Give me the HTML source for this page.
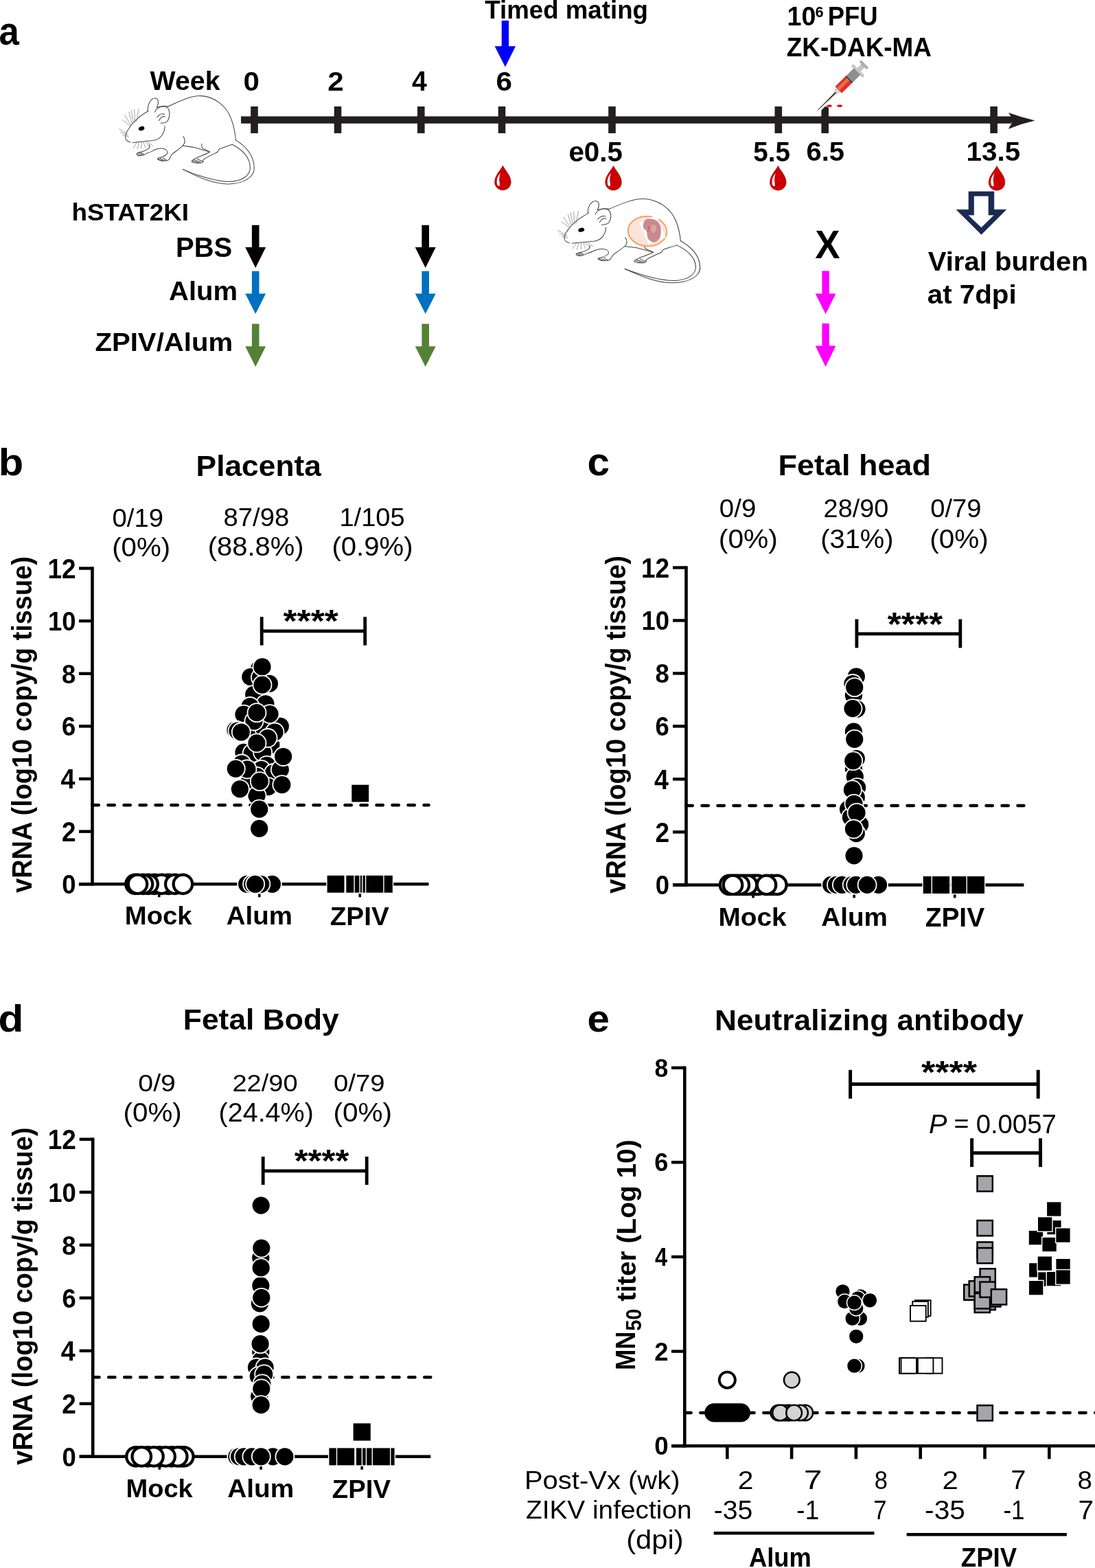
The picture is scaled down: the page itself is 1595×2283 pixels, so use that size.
<!DOCTYPE html>
<html><head><meta charset="utf-8"><title>Figure</title>
<style>html,body{margin:0;padding:0;background:#fff;}svg{display:block;}text{font-family:"Liberation Sans",sans-serif;}</style>
</head><body>
<svg width="1595" height="2283" viewBox="0 0 1595 2283">
<rect width="1595" height="2283" fill="#fff"/>
<text transform="translate(-1.58,65.12) scale(0.9085,1)" font-size="58.08" font-weight="bold">a</text>
<text x="218.60" y="131.31" font-size="39.32" font-weight="bold">Week</text>
<text transform="translate(354.62,131.71) scale(1.0793,1)" font-size="39.01" font-weight="bold">0</text>
<text transform="translate(477.33,132.10) scale(1.0635,1)" font-size="39.57" font-weight="bold">2</text>
<text transform="translate(600.11,132.10) scale(0.9778,1)" font-size="40.15" font-weight="bold">4</text>
<text transform="translate(722.41,131.71) scale(1.0838,1)" font-size="39.01" font-weight="bold">6</text>
<text transform="translate(706.23,27.12) scale(1.0147,1)" font-size="36.16" font-weight="bold">Timed mating</text>
<text transform="translate(828.39,234.90) scale(1.0093,1)" font-size="40.00" font-weight="bold">e0.5</text>
<text transform="translate(1097.24,234.89) scale(0.9544,1)" font-size="40.57" font-weight="bold">5.5</text>
<text transform="translate(1174.50,233.92) scale(1.0481,1)" font-size="38.16" font-weight="bold">6.5</text>
<text transform="translate(1407.47,233.82) scale(1.0632,1)" font-size="38.03" font-weight="bold">13.5</text>
<text transform="translate(1146.54,37.42) scale(0.9883,1)" font-size="38.16" font-weight="bold">10</text>
<text transform="translate(1187.48,25.48) scale(0.9869,1)" font-size="22.05" font-weight="bold">6</text>
<text transform="translate(1205.64,37.41) scale(0.9422,1)" font-size="38.71" font-weight="bold">PFU</text>
<text transform="translate(1145.79,81.90) scale(0.9368,1)" font-size="39.42" font-weight="bold">ZK-DAK-MA</text>
<text transform="translate(104.52,320.85) scale(1.0420,1)" font-size="35.37" font-weight="bold">hSTAT2KI</text>
<text transform="translate(256.00,374.39) scale(0.9873,1)" font-size="40.57" font-weight="bold">PBS</text>
<text transform="translate(246.00,437.42) scale(1.0511,1)" font-size="38.10" font-weight="bold">Alum</text>
<text transform="translate(138.40,510.54) scale(1.0610,1)" font-size="37.85" font-weight="bold">ZPIV/Alum</text>
<text transform="translate(1187.15,376.30) scale(0.9586,1)" font-size="56.87" font-weight="bold">X</text>
<text transform="translate(1351.70,394.02) scale(1.0565,1)" font-size="37.96" font-weight="bold">Viral burden</text>
<text transform="translate(1350.79,442.49) scale(1.0189,1)" font-size="39.57" font-weight="bold">at 7dpi</text>
<rect x="351" y="169.4" width="1122" height="10.4" fill="#231f20"/>
<rect x="365.2" y="155" width="10.6" height="39" fill="#231f20"/>
<rect x="486.7" y="155" width="10.6" height="39" fill="#231f20"/>
<rect x="608.0" y="155" width="10.6" height="39" fill="#231f20"/>
<rect x="725.7" y="155" width="10.6" height="39" fill="#231f20"/>
<rect x="886.2" y="155" width="10.6" height="39" fill="#231f20"/>
<rect x="1128.5" y="155" width="10.6" height="39" fill="#231f20"/>
<rect x="1196.4" y="155" width="10.6" height="39" fill="#231f20"/>
<rect x="1442.3" y="155" width="10.6" height="39" fill="#231f20"/>
<path d="M1468.9,164 Q1471,167 1472.3,169.4 L1473.5,179.8 Q1471,184 1468.9,187.7 Q1488,180 1507.6,175.5 Q1488,171 1468.9,164 Z" fill="#231f20"/>
<path d="M730.7,30.0 H741.1 V67.3 H751.1 L735.9,97.4 L720.6,67.3 H730.7 Z" fill="#0000ff"/>
<path d="M366.9,327.8 H377.5 V360.0 H387.2 L372.2,390.0 L357.2,360.0 H366.9 Z" fill="#000000"/>
<path d="M366.9,394.8 H377.5 V427.5 H387.2 L372.2,457.0 L357.2,427.5 H366.9 Z" fill="#0070c0"/>
<path d="M366.9,471.5 H377.5 V504.2 H387.2 L372.2,534.0 L357.2,504.2 H366.9 Z" fill="#548235"/>
<path d="M614.4,327.8 H625.0 V360.0 H634.7 L619.7,390.0 L604.7,360.0 H614.4 Z" fill="#000000"/>
<path d="M614.4,394.8 H625.0 V427.5 H634.7 L619.7,457.0 L604.7,427.5 H614.4 Z" fill="#0070c0"/>
<path d="M614.4,471.5 H625.0 V504.2 H634.7 L619.7,534.0 L604.7,504.2 H614.4 Z" fill="#548235"/>
<path d="M1197.4,394.4 H1207.8 V427.5 H1217.5 L1202.6,457.2 L1187.7,427.5 H1197.4 Z" fill="#ff00ff"/>
<path d="M1197.4,471.0 H1207.8 V503.5 H1217.5 L1202.6,534.0 L1187.7,503.5 H1197.4 Z" fill="#ff00ff"/>
<path fill-rule="evenodd" d="M1411,278.9 H1447.9 V305.2 H1465.7 L1429.4,341.4 L1393,305.2 H1411 Z M1418.5,285.3 V313.1 H1409.9 L1429.4,331.6 L1448.3,313.1 H1440 V285.3 Z" fill="#1b2a52" stroke="#1b2a52" stroke-width="0.6" stroke-linejoin="round"/>
<g transform="translate(732.4,241.3) scale(1.000)"><path d="M0,0 C-3,6.5 -11.8,14 -11.8,24 C-11.8,30.5 -6.5,35.5 0,35.5 C6.5,35.5 11.8,30.5 11.8,24 C11.8,14 3,6.5 0,0 Z" fill="#cc0000" stroke="#8a0000" stroke-width="0.6"/><path d="M-3.5,10.6 C-6,13.5 -8.3,17 -8.6,21 C-9,25 -8.5,28 -6.7,29.4 C-5.5,30 -4.6,29.2 -4.5,28.2 C-4.6,25 -5.3,22 -5.2,19.5 C-5.1,16 -4.2,13 -3.5,10.6 Z" fill="#fff"/></g>
<g transform="translate(893.5,241.6) scale(1.000)"><path d="M0,0 C-3,6.5 -11.8,14 -11.8,24 C-11.8,30.5 -6.5,35.5 0,35.5 C6.5,35.5 11.8,30.5 11.8,24 C11.8,14 3,6.5 0,0 Z" fill="#cc0000" stroke="#8a0000" stroke-width="0.6"/><path d="M-3.5,10.6 C-6,13.5 -8.3,17 -8.6,21 C-9,25 -8.5,28 -6.7,29.4 C-5.5,30 -4.6,29.2 -4.5,28.2 C-4.6,25 -5.3,22 -5.2,19.5 C-5.1,16 -4.2,13 -3.5,10.6 Z" fill="#fff"/></g>
<g transform="translate(1133.3,241.6) scale(1.000)"><path d="M0,0 C-3,6.5 -11.8,14 -11.8,24 C-11.8,30.5 -6.5,35.5 0,35.5 C6.5,35.5 11.8,30.5 11.8,24 C11.8,14 3,6.5 0,0 Z" fill="#cc0000" stroke="#8a0000" stroke-width="0.6"/><path d="M-3.5,10.6 C-6,13.5 -8.3,17 -8.6,21 C-9,25 -8.5,28 -6.7,29.4 C-5.5,30 -4.6,29.2 -4.5,28.2 C-4.6,25 -5.3,22 -5.2,19.5 C-5.1,16 -4.2,13 -3.5,10.6 Z" fill="#fff"/></g>
<g transform="translate(1452.0,241.7) scale(1.000)"><path d="M0,0 C-3,6.5 -11.8,14 -11.8,24 C-11.8,30.5 -6.5,35.5 0,35.5 C6.5,35.5 11.8,30.5 11.8,24 C11.8,14 3,6.5 0,0 Z" fill="#cc0000" stroke="#8a0000" stroke-width="0.6"/><path d="M-3.5,10.6 C-6,13.5 -8.3,17 -8.6,21 C-9,25 -8.5,28 -6.7,29.4 C-5.5,30 -4.6,29.2 -4.5,28.2 C-4.6,25 -5.3,22 -5.2,19.5 C-5.1,16 -4.2,13 -3.5,10.6 Z" fill="#fff"/></g>
<g transform="translate(1191.3,160.3) rotate(-44.5)"><g stroke="#fff" stroke-width="5" stroke-linejoin="round" fill="#fff" opacity="0.9"><rect x="4" y="-1.2" width="36" height="2.4"/><rect x="40" y="-6.8" width="41" height="13.6"/><rect x="80" y="-11.3" width="3.4" height="22.6"/><rect x="83" y="-3.8" width="10" height="7.6"/><rect x="92.5" y="-7.2" width="3.4" height="14.4"/></g><path d="M0,0 L38,-1 L38,1 Z" fill="#333" stroke="#444" stroke-width="0.8"/><circle cx="39.5" cy="0" r="3.2" fill="#d8d8dc" stroke="#999" stroke-width="0.6"/><rect x="42" y="-6.8" width="22" height="13.6" fill="#e03028"/><rect x="42" y="-3.5" width="22" height="5" fill="#ec6a50"/><rect x="63.5" y="-6.8" width="17" height="13.6" fill="#8e8e92"/><rect x="63.3" y="-6.8" width="1.2" height="13.6" fill="#222"/><rect x="80" y="-11.3" width="3.2" height="22.6" fill="#c8c8cc" stroke="#888" stroke-width="0.5"/><rect x="83" y="-3.6" width="10" height="7.2" fill="#c4c4c8"/><rect x="92.5" y="-7.2" width="3.2" height="14.4" fill="#b0b0b4" stroke="#777" stroke-width="0.5"/></g>
<path d="M1212.5,154.2 C1210.5,151 1205.5,151.8 1202.9,154.2 C1205.5,156.6 1210.5,157.4 1212.5,154.2 Z" fill="#d01010" stroke="#fff" stroke-width="0.8"/>
<path d="M1227.6,154.2 C1225.6,151 1220.6,151.8 1218.0,154.2 C1220.6,156.6 1225.6,157.4 1227.6,154.2 Z" fill="#d01010" stroke="#fff" stroke-width="0.8"/>
<g transform="translate(160,120) scale(0.1442)" fill="none" stroke-linecap="round" stroke-linejoin="round"><g stroke="#454545" stroke-width="7.2"><path d="M590,243 C700,190 820,132 920,136 C1050,142 1180,230 1230,380 C1258,460 1268,530 1272,582"/><path d="M1272,582 C1380,650 1455,740 1458,860 C1460,960 1350,1022 1200,1026 C1050,1028 900,960 738,878"/><path d="M738,878 C900,945 1060,1000 1200,1002 C1330,1002 1422,942 1417,852 C1412,760 1340,680 1235,626"/><path d="M1235,626 C1180,650 1120,662 1100,678 L1092,700 C1050,722 1000,745 950,775 C935,790 945,805 930,812 C905,818 880,815 860,812 C840,810 825,805 828,795 C835,780 860,770 880,760 C930,740 980,720 1010,702 C990,690 960,680 932,660 C925,645 925,630 930,620"/><path d="M1010,702 C960,690 900,668 850,655 C810,648 770,645 738,640"/><path d="M742,545 C762,580 762,615 735,640 C700,672 660,700 632,722 C612,742 608,760 600,775"/><path d="M600,775 C590,790 560,795 540,790 C520,795 500,790 482,776 C478,768 490,762 505,760 C530,752 560,740 578,720 C585,700 575,680 555,672 C520,662 480,668 450,682"/><path d="M450,682 C430,695 410,705 380,712 C360,725 340,738 310,740 C290,742 272,735 270,722 C275,710 290,708 300,706 C330,700 360,690 385,672 C402,660 405,645 400,630"/><path d="M388,288 C300,340 225,410 190,468 C165,505 150,545 160,570 C168,588 185,598 205,604"/><path d="M230,608 C300,598 380,592 440,586 C510,575 552,520 556,440"/><path d="M385,290 C378,230 410,160 455,160 C490,160 500,200 475,252"/><path d="M455,300 C470,255 520,235 565,245 C612,265 612,340 582,392 C565,406 540,412 515,410"/><path d="M478,352 C498,322 528,310 552,322"/><path d="M495,386 C515,348 540,338 556,348"/><path d="M475,252 C510,242 560,238 590,243"/><path d="M276,716 C286,726 296,734 310,738"/><path d="M292,708 C302,718 312,727 326,732"/><path d="M308,704 C320,712 330,720 342,727"/><path d="M487,768 C500,780 515,788 530,791"/><path d="M507,762 C520,775 535,784 550,788"/><path d="M540,760 C550,772 560,782 575,787"/><path d="M836,792 C860,801 880,808 900,812"/><path d="M852,782 C875,793 895,801 920,806"/><path d="M882,772 C905,785 925,795 945,800"/></g><g stroke="#6e6e6e" stroke-width="4.5"><path d="M205,438 L130,380"/><path d="M212,430 L150,330"/><path d="M226,420 L192,300"/><path d="M240,410 L216,282"/><path d="M255,402 L247,272"/><path d="M270,396 L292,268"/><path d="M182,522 L95,470"/><path d="M182,536 L108,502"/><path d="M190,552 L130,532"/><path d="M275,602 L238,662"/><path d="M295,602 L278,672"/><path d="M318,604 L318,668"/><path d="M338,602 L360,662"/><path d="M358,600 L402,652"/><path d="M378,600 L432,640"/></g><ellipse cx="320" cy="465" rx="30" ry="21" transform="rotate(-18 320 465)" fill="#000" stroke="none"/></g>
<g transform="translate(798.08,270.81) scale(0.15198,0.13742)" fill="none" stroke-linecap="round" stroke-linejoin="round"><g stroke="#454545" stroke-width="7.2"><path d="M590,243 C700,190 820,132 920,136 C1050,142 1180,230 1230,380 C1258,460 1268,530 1272,582"/><path d="M1272,582 C1380,650 1455,740 1458,860 C1460,960 1350,1022 1200,1026 C1050,1028 900,960 738,878"/><path d="M738,878 C900,945 1060,1000 1200,1002 C1330,1002 1422,942 1417,852 C1412,760 1340,680 1235,626"/><path d="M1235,626 C1180,650 1120,662 1100,678 L1092,700 C1050,722 1000,745 950,775 C935,790 945,805 930,812 C905,818 880,815 860,812 C840,810 825,805 828,795 C835,780 860,770 880,760 C930,740 980,720 1010,702 C990,690 960,680 932,660 C925,645 925,630 930,620"/><path d="M1010,702 C960,690 900,668 850,655 C810,648 770,645 738,640"/><path d="M742,545 C762,580 762,615 735,640 C700,672 660,700 632,722 C612,742 608,760 600,775"/><path d="M600,775 C590,790 560,795 540,790 C520,795 500,790 482,776 C478,768 490,762 505,760 C530,752 560,740 578,720 C585,700 575,680 555,672 C520,662 480,668 450,682"/><path d="M450,682 C430,695 410,705 380,712 C360,725 340,738 310,740 C290,742 272,735 270,722 C275,710 290,708 300,706 C330,700 360,690 385,672 C402,660 405,645 400,630"/><path d="M388,288 C300,340 225,410 190,468 C165,505 150,545 160,570 C168,588 185,598 205,604"/><path d="M230,608 C300,598 380,592 440,586 C510,575 552,520 556,440"/><path d="M385,290 C378,230 410,160 455,160 C490,160 500,200 475,252"/><path d="M455,300 C470,255 520,235 565,245 C612,265 612,340 582,392 C565,406 540,412 515,410"/><path d="M478,352 C498,322 528,310 552,322"/><path d="M495,386 C515,348 540,338 556,348"/><path d="M475,252 C510,242 560,238 590,243"/><path d="M276,716 C286,726 296,734 310,738"/><path d="M292,708 C302,718 312,727 326,732"/><path d="M308,704 C320,712 330,720 342,727"/><path d="M487,768 C500,780 515,788 530,791"/><path d="M507,762 C520,775 535,784 550,788"/><path d="M540,760 C550,772 560,782 575,787"/><path d="M836,792 C860,801 880,808 900,812"/><path d="M852,782 C875,793 895,801 920,806"/><path d="M882,772 C905,785 925,795 945,800"/></g><g stroke="#6e6e6e" stroke-width="4.5"><path d="M205,438 L130,380"/><path d="M212,430 L150,330"/><path d="M226,420 L192,300"/><path d="M240,410 L216,282"/><path d="M255,402 L247,272"/><path d="M270,396 L292,268"/><path d="M182,522 L95,470"/><path d="M182,536 L108,502"/><path d="M190,552 L130,532"/><path d="M275,602 L238,662"/><path d="M295,602 L278,672"/><path d="M318,604 L318,668"/><path d="M338,602 L360,662"/><path d="M358,600 L402,652"/><path d="M378,600 L432,640"/></g><ellipse cx="320" cy="465" rx="30" ry="21" transform="rotate(-18 320 465)" fill="#000" stroke="none"/></g>
<g><ellipse cx="943" cy="336.7" rx="28.2" ry="21.7" transform="rotate(4 943 336.7)" fill="#fbe4d8" stroke="#f2a46c" stroke-width="2.1"/><path d="M931,324 L956.5,313 L969.5,346 L944.5,355.8 Z" fill="#fff"/><path d="M945.1,318.5 C952,318.5 957,320.5 959.2,324.1 C962,328 963,331 962.7,335.1 C962.5,340 962.5,342 961.7,345.1 C960,350 956,352.6 952.6,352.6 C950,352.8 948.5,352 947.6,351.1 C944.5,349 943.5,347.5 943.1,345.1 C942.5,342 942.6,339 942.1,337.6 C941.6,336 941.4,335.5 941.1,335.1 C939.5,334.5 938,334 937.6,332.6 C936.8,330 936.8,328 937.1,326.1 C937.6,323 938.5,321.5 940.1,320.5 C941.5,319 943.5,318.5 945.1,318.5 Z" fill="#c98a8f"/><ellipse cx="952" cy="333" rx="4" ry="6" fill="#d9a3a6"/><circle cx="944.8" cy="331.6" r="0.9" fill="#6a3030"/><circle cx="944.2" cy="335.8" r="1.4" fill="#d25c5c"/></g>
<line x1="134.50" y1="825.25" x2="134.50" y2="1289.55" stroke="#000" stroke-width="4.6" stroke-linecap="butt"/><line x1="115.00" y1="1287.30" x2="134.50" y2="1287.30" stroke="#000" stroke-width="4.4" stroke-linecap="butt"/><line x1="115.00" y1="1210.67" x2="134.50" y2="1210.67" stroke="#000" stroke-width="4.4" stroke-linecap="butt"/><line x1="115.00" y1="1134.03" x2="134.50" y2="1134.03" stroke="#000" stroke-width="4.4" stroke-linecap="butt"/><line x1="115.00" y1="1057.40" x2="134.50" y2="1057.40" stroke="#000" stroke-width="4.4" stroke-linecap="butt"/><line x1="115.00" y1="980.76" x2="134.50" y2="980.76" stroke="#000" stroke-width="4.4" stroke-linecap="butt"/><line x1="115.00" y1="904.13" x2="134.50" y2="904.13" stroke="#000" stroke-width="4.4" stroke-linecap="butt"/><line x1="115.00" y1="827.50" x2="134.50" y2="827.50" stroke="#000" stroke-width="4.4" stroke-linecap="butt"/><line x1="115.00" y1="1287.30" x2="624.50" y2="1287.30" stroke="#000" stroke-width="4.5" stroke-linecap="butt"/><line x1="231.70" y1="1287.30" x2="231.70" y2="1306.30" stroke="#000" stroke-width="3.6" stroke-linecap="butt"/><line x1="377.80" y1="1287.30" x2="377.80" y2="1306.30" stroke="#000" stroke-width="3.6" stroke-linecap="butt"/><line x1="524.30" y1="1287.30" x2="524.30" y2="1306.30" stroke="#000" stroke-width="3.6" stroke-linecap="butt"/><line x1="134.5" y1="1172.35" x2="624.5" y2="1172.35" stroke="#000" stroke-width="4.5" stroke-linecap="round" stroke-dasharray="9.3 13.7"/>
<line x1="999.50" y1="824.20" x2="999.50" y2="1290.65" stroke="#000" stroke-width="4.6" stroke-linecap="butt"/><line x1="980.00" y1="1288.40" x2="999.50" y2="1288.40" stroke="#000" stroke-width="4.4" stroke-linecap="butt"/><line x1="980.00" y1="1211.41" x2="999.50" y2="1211.41" stroke="#000" stroke-width="4.4" stroke-linecap="butt"/><line x1="980.00" y1="1134.42" x2="999.50" y2="1134.42" stroke="#000" stroke-width="4.4" stroke-linecap="butt"/><line x1="980.00" y1="1057.42" x2="999.50" y2="1057.42" stroke="#000" stroke-width="4.4" stroke-linecap="butt"/><line x1="980.00" y1="980.43" x2="999.50" y2="980.43" stroke="#000" stroke-width="4.4" stroke-linecap="butt"/><line x1="980.00" y1="903.44" x2="999.50" y2="903.44" stroke="#000" stroke-width="4.4" stroke-linecap="butt"/><line x1="980.00" y1="826.45" x2="999.50" y2="826.45" stroke="#000" stroke-width="4.4" stroke-linecap="butt"/><line x1="980.00" y1="1288.40" x2="1491.40" y2="1288.40" stroke="#000" stroke-width="4.5" stroke-linecap="butt"/><line x1="1097.10" y1="1288.40" x2="1097.10" y2="1307.40" stroke="#000" stroke-width="3.6" stroke-linecap="butt"/><line x1="1244.20" y1="1288.40" x2="1244.20" y2="1307.40" stroke="#000" stroke-width="3.6" stroke-linecap="butt"/><line x1="1390.70" y1="1288.40" x2="1390.70" y2="1307.40" stroke="#000" stroke-width="3.6" stroke-linecap="butt"/><line x1="999.5" y1="1172.91" x2="1491.4" y2="1172.91" stroke="#000" stroke-width="4.5" stroke-linecap="round" stroke-dasharray="9.3 13.7"/>
<line x1="135.20" y1="1656.55" x2="135.20" y2="2123.00" stroke="#000" stroke-width="4.6" stroke-linecap="butt"/><line x1="115.70" y1="2120.75" x2="135.20" y2="2120.75" stroke="#000" stroke-width="4.4" stroke-linecap="butt"/><line x1="115.70" y1="2043.76" x2="135.20" y2="2043.76" stroke="#000" stroke-width="4.4" stroke-linecap="butt"/><line x1="115.70" y1="1966.77" x2="135.20" y2="1966.77" stroke="#000" stroke-width="4.4" stroke-linecap="butt"/><line x1="115.70" y1="1889.77" x2="135.20" y2="1889.77" stroke="#000" stroke-width="4.4" stroke-linecap="butt"/><line x1="115.70" y1="1812.78" x2="135.20" y2="1812.78" stroke="#000" stroke-width="4.4" stroke-linecap="butt"/><line x1="115.70" y1="1735.79" x2="135.20" y2="1735.79" stroke="#000" stroke-width="4.4" stroke-linecap="butt"/><line x1="115.70" y1="1658.80" x2="135.20" y2="1658.80" stroke="#000" stroke-width="4.4" stroke-linecap="butt"/><line x1="115.70" y1="2120.75" x2="627.30" y2="2120.75" stroke="#000" stroke-width="4.5" stroke-linecap="butt"/><line x1="232.30" y1="2120.75" x2="232.30" y2="2139.75" stroke="#000" stroke-width="3.6" stroke-linecap="butt"/><line x1="380.10" y1="2120.75" x2="380.10" y2="2139.75" stroke="#000" stroke-width="3.6" stroke-linecap="butt"/><line x1="527.20" y1="2120.75" x2="527.20" y2="2139.75" stroke="#000" stroke-width="3.6" stroke-linecap="butt"/><line x1="135.2" y1="2005.26" x2="627.3" y2="2005.26" stroke="#000" stroke-width="4.5" stroke-linecap="round" stroke-dasharray="9.3 13.7"/>
<text transform="translate(90.28,1301.31) scale(0.9300,1)" font-size="39.29" font-weight="bold">0</text><text transform="translate(90.01,1225.07) scale(0.9300,1)" font-size="39.86" font-weight="bold">2</text><text transform="translate(88.42,1148.43) scale(0.9300,1)" font-size="40.44" font-weight="bold">4</text><text transform="translate(90.10,1071.41) scale(0.9300,1)" font-size="39.29" font-weight="bold">6</text><text transform="translate(89.92,994.77) scale(0.9300,1)" font-size="39.29" font-weight="bold">8</text><text transform="translate(70.00,918.14) scale(0.9300,1)" font-size="39.29" font-weight="bold">10</text><text transform="translate(69.44,841.90) scale(0.9300,1)" font-size="39.86" font-weight="bold">12</text>
<text transform="translate(954.78,1302.41) scale(0.9300,1)" font-size="39.29" font-weight="bold">0</text><text transform="translate(954.51,1225.81) scale(0.9300,1)" font-size="39.86" font-weight="bold">2</text><text transform="translate(952.92,1148.82) scale(0.9300,1)" font-size="40.44" font-weight="bold">4</text><text transform="translate(954.60,1071.43) scale(0.9300,1)" font-size="39.29" font-weight="bold">6</text><text transform="translate(954.42,994.44) scale(0.9300,1)" font-size="39.29" font-weight="bold">8</text><text transform="translate(934.50,917.45) scale(0.9300,1)" font-size="39.29" font-weight="bold">10</text><text transform="translate(933.94,840.85) scale(0.9300,1)" font-size="39.86" font-weight="bold">12</text>
<text transform="translate(90.58,2134.76) scale(0.9300,1)" font-size="39.29" font-weight="bold">0</text><text transform="translate(90.31,2058.16) scale(0.9300,1)" font-size="39.86" font-weight="bold">2</text><text transform="translate(88.72,1981.17) scale(0.9300,1)" font-size="40.44" font-weight="bold">4</text><text transform="translate(90.40,1903.78) scale(0.9300,1)" font-size="39.29" font-weight="bold">6</text><text transform="translate(90.22,1826.79) scale(0.9300,1)" font-size="39.29" font-weight="bold">8</text><text transform="translate(70.30,1749.80) scale(0.9300,1)" font-size="39.29" font-weight="bold">10</text><text transform="translate(69.74,1673.20) scale(0.9300,1)" font-size="39.86" font-weight="bold">12</text>
<text transform="translate(-2.37,691.74) scale(1.0685,1)" font-size="55.78" font-weight="bold">b</text>
<text transform="translate(855.56,692.13) scale(1.0194,1)" font-size="57.35" font-weight="bold">c</text>
<text transform="translate(-2.42,1502.04) scale(1.0827,1)" font-size="55.78" font-weight="bold">d</text>
<text transform="translate(855.57,1502.05) scale(1.0523,1)" font-size="55.34" font-weight="bold">e</text>
<text transform="translate(285.61,692.87) scale(1.0374,1)" font-size="42.72" font-weight="bold">Placenta</text>
<text transform="translate(1133.46,692.17) scale(1.0464,1)" font-size="42.99" font-weight="bold">Fetal head</text>
<text transform="translate(266.80,1499.17) scale(1.0431,1)" font-size="42.57" font-weight="bold">Fetal Body</text>
<text transform="translate(1041.01,1500.17) scale(1.0529,1)" font-size="42.03" font-weight="bold">Neutralizing antibody</text>
<text transform="translate(163.47,766.63) scale(1.0306,1)" font-size="37.14" >0/19</text>
<text transform="translate(163.18,810.47) scale(1.0145,1)" font-size="39.68" >(0%)</text>
<text transform="translate(325.47,765.63) scale(1.0301,1)" font-size="37.14" >87/98</text>
<text transform="translate(302.70,808.93) scale(1.0148,1)" font-size="39.36" >(88.8%)</text>
<text transform="translate(494.44,765.63) scale(1.0251,1)" font-size="37.14" >1/105</text>
<text transform="translate(483.50,808.93) scale(1.0182,1)" font-size="39.36" >(0.9%)</text>
<text transform="translate(1047.86,753.43) scale(1.0472,1)" font-size="36.73" >0/9</text>
<text transform="translate(1046.85,797.70) scale(1.0441,1)" font-size="39.03" >(0%)</text>
<text transform="translate(1199.61,753.43) scale(1.0303,1)" font-size="36.73" >28/90</text>
<text transform="translate(1195.21,797.70) scale(1.0217,1)" font-size="39.03" >(31%)</text>
<text transform="translate(1355.28,753.43) scale(1.0377,1)" font-size="36.73" >0/79</text>
<text transform="translate(1354.27,797.70) scale(1.0363,1)" font-size="39.03" >(0%)</text>
<text transform="translate(201.33,1588.54) scale(1.1006,1)" font-size="35.65" >0/9</text>
<text transform="translate(179.58,1632.91) scale(1.0482,1)" font-size="38.50" >(0%)</text>
<text transform="translate(338.50,1588.54) scale(1.0652,1)" font-size="35.65" >22/90</text>
<text transform="translate(318.53,1632.91) scale(1.0267,1)" font-size="38.50" >(24.4%)</text>
<text transform="translate(486.07,1588.54) scale(1.0739,1)" font-size="35.65" >0/79</text>
<text transform="translate(485.57,1632.91) scale(1.0521,1)" font-size="38.50" >(0%)</text>
<text transform="translate(181.82,1346.23) scale(1.0458,1)" font-size="36.60" font-weight="bold">Mock</text>
<text transform="translate(329.84,1346.23) scale(1.0510,1)" font-size="36.60" font-weight="bold">Alum</text>
<text transform="translate(480.64,1346.60) scale(1.0370,1)" font-size="37.38" font-weight="bold">ZPIV</text>
<text transform="translate(1046.58,1348.13) scale(1.0358,1)" font-size="37.41" font-weight="bold">Mock</text>
<text transform="translate(1196.23,1348.13) scale(1.0347,1)" font-size="37.41" font-weight="bold">Alum</text>
<text transform="translate(1347.63,1348.50) scale(1.0181,1)" font-size="38.25" font-weight="bold">ZPIV</text>
<text transform="translate(183.43,2180.34) scale(1.0571,1)" font-size="36.05" font-weight="bold">Mock</text>
<text transform="translate(331.13,2180.34) scale(1.0772,1)" font-size="36.05" font-weight="bold">Alum</text>
<text transform="translate(483.85,2180.70) scale(1.0422,1)" font-size="36.80" font-weight="bold">ZPIV</text>
<text transform="translate(46.00,1299.89) rotate(-90) scale(0.9452,1)" font-size="40.15" font-weight="bold">vRNA (log10 copy/g tissue)</text>
<text transform="translate(910.80,1300.99) rotate(-90) scale(0.9461,1)" font-size="40.29" font-weight="bold">vRNA (log10 copy/g tissue)</text>
<text transform="translate(46.50,2133.09) rotate(-90) scale(0.9455,1)" font-size="40.29" font-weight="bold">vRNA (log10 copy/g tissue)</text>
<line x1="381.20" y1="898.20" x2="381.20" y2="939.60" stroke="#000" stroke-width="4.8" stroke-linecap="butt"/><line x1="531.70" y1="898.20" x2="531.70" y2="939.60" stroke="#000" stroke-width="4.8" stroke-linecap="butt"/><line x1="381.20" y1="918.90" x2="531.70" y2="918.90" stroke="#000" stroke-width="4.8" stroke-linecap="butt"/>
<text transform="translate(412.57,920.13) scale(1.1095,1)" font-size="46.44" font-weight="bold">****</text>
<line x1="1247.90" y1="901.50" x2="1247.90" y2="943.30" stroke="#000" stroke-width="4.8" stroke-linecap="butt"/><line x1="1398.80" y1="901.50" x2="1398.80" y2="943.30" stroke="#000" stroke-width="4.8" stroke-linecap="butt"/><line x1="1247.90" y1="922.80" x2="1398.80" y2="922.80" stroke="#000" stroke-width="4.8" stroke-linecap="butt"/>
<text transform="translate(1292.77,925.32) scale(1.0677,1)" font-size="48.32" font-weight="bold">****</text>
<line x1="383.20" y1="1684.00" x2="383.20" y2="1725.20" stroke="#000" stroke-width="4.8" stroke-linecap="butt"/><line x1="534.20" y1="1684.00" x2="534.20" y2="1725.20" stroke="#000" stroke-width="4.8" stroke-linecap="butt"/><line x1="383.20" y1="1704.80" x2="534.20" y2="1704.80" stroke="#000" stroke-width="4.8" stroke-linecap="butt"/>
<text transform="translate(428.67,1706.10) scale(1.0914,1)" font-size="46.98" font-weight="bold">****</text>
<line x1="997.30" y1="1552.52" x2="997.30" y2="2107.45" stroke="#000" stroke-width="4.6" stroke-linecap="butt"/>
<line x1="978.00" y1="2105.20" x2="997.30" y2="2105.20" stroke="#000" stroke-width="4.4" stroke-linecap="butt"/>
<line x1="978.00" y1="1967.58" x2="997.30" y2="1967.58" stroke="#000" stroke-width="4.4" stroke-linecap="butt"/>
<line x1="978.00" y1="1829.96" x2="997.30" y2="1829.96" stroke="#000" stroke-width="4.4" stroke-linecap="butt"/>
<line x1="978.00" y1="1692.34" x2="997.30" y2="1692.34" stroke="#000" stroke-width="4.4" stroke-linecap="butt"/>
<line x1="978.00" y1="1554.72" x2="997.30" y2="1554.72" stroke="#000" stroke-width="4.4" stroke-linecap="butt"/>
<line x1="978.00" y1="2105.20" x2="1595.00" y2="2105.20" stroke="#000" stroke-width="4.5" stroke-linecap="butt"/>
<line x1="1059.30" y1="2105.20" x2="1059.30" y2="2124.30" stroke="#000" stroke-width="4.6" stroke-linecap="butt"/>
<line x1="1153.10" y1="2105.20" x2="1153.10" y2="2124.30" stroke="#000" stroke-width="4.6" stroke-linecap="butt"/>
<line x1="1246.90" y1="2105.20" x2="1246.90" y2="2124.30" stroke="#000" stroke-width="4.6" stroke-linecap="butt"/>
<line x1="1340.70" y1="2105.20" x2="1340.70" y2="2124.30" stroke="#000" stroke-width="4.6" stroke-linecap="butt"/>
<line x1="1434.50" y1="2105.20" x2="1434.50" y2="2124.30" stroke="#000" stroke-width="4.6" stroke-linecap="butt"/>
<line x1="1528.30" y1="2105.20" x2="1528.30" y2="2124.30" stroke="#000" stroke-width="4.6" stroke-linecap="butt"/>
<line x1="997.3" y1="2057" x2="1600" y2="2057" stroke="#000" stroke-width="4.5" stroke-linecap="round" stroke-dasharray="9.3 13.7"/>
<text x="953.13" y="2118.23" font-size="36.75" font-weight="bold">0</text>
<text transform="translate(953.32,1980.98) scale(0.9781,1)" font-size="37.28" font-weight="bold">2</text>
<text transform="translate(954.11,1843.36) scale(0.8649,1)" font-size="37.82" font-weight="bold">4</text>
<text transform="translate(953.24,1705.37) scale(0.9869,1)" font-size="36.75" font-weight="bold">6</text>
<text transform="translate(953.45,1567.75) scale(0.9669,1)" font-size="36.75" font-weight="bold">8</text>
<line x1="1238.60" y1="1557.80" x2="1238.60" y2="1599.60" stroke="#000" stroke-width="5" stroke-linecap="butt"/><line x1="1512.20" y1="1557.80" x2="1512.20" y2="1599.60" stroke="#000" stroke-width="5" stroke-linecap="butt"/><line x1="1238.60" y1="1578.60" x2="1512.20" y2="1578.60" stroke="#000" stroke-width="5" stroke-linecap="butt"/>
<text transform="translate(1341.97,1576.90) scale(1.1106,1)" font-size="46.98" font-weight="bold">****</text>
<line x1="1415.60" y1="1657.30" x2="1415.60" y2="1699.10" stroke="#000" stroke-width="5" stroke-linecap="butt"/><line x1="1515.50" y1="1657.30" x2="1515.50" y2="1699.10" stroke="#000" stroke-width="5" stroke-linecap="butt"/><line x1="1415.60" y1="1678.70" x2="1515.50" y2="1678.70" stroke="#000" stroke-width="5" stroke-linecap="butt"/>
<text transform="translate(763.90,2167.68) scale(1.1031,1)" font-size="36.25" >Post-Vx (wk)</text>
<text transform="translate(765.94,2211.04) scale(1.0732,1)" font-size="36.19" >ZIKV infection</text>
<text transform="translate(912.19,2255.04) scale(1.0757,1)" font-size="38.82" >(dpi)</text>
<text transform="translate(1074.86,2168.00) scale(1.0800,1)" font-size="37.85" >2</text>
<text transform="translate(1170.92,2168.00) scale(1.2316,1)" font-size="38.40" >7</text>
<text transform="translate(1273.74,2167.63) scale(0.9237,1)" font-size="37.31" >8</text>
<text transform="translate(1372.40,2168.00) scale(1.1091,1)" font-size="37.85" >2</text>
<text transform="translate(1472.43,2168.00) scale(1.0244,1)" font-size="38.40" >7</text>
<text transform="translate(1569.46,2167.63) scale(1.0321,1)" font-size="37.31" >8</text>
<text transform="translate(1039.63,2212.02) scale(1.0213,1)" font-size="38.45" >-35</text>
<text transform="translate(1160.34,2212.40) scale(0.9347,1)" font-size="39.56" >-1</text>
<text transform="translate(1272.18,2212.40) scale(0.8770,1)" font-size="39.56" >7</text>
<text transform="translate(1347.07,2212.02) scale(1.0596,1)" font-size="38.45" >-35</text>
<text transform="translate(1461.43,2212.40) scale(0.8839,1)" font-size="39.56" >-1</text>
<text transform="translate(1570.47,2212.40) scale(1.0278,1)" font-size="39.56" >7</text>
<line x1="1039.70" y1="2232.30" x2="1273.40" y2="2232.30" stroke="#000" stroke-width="4.6" stroke-linecap="butt"/>
<line x1="1320.60" y1="2234.20" x2="1553.90" y2="2234.20" stroke="#000" stroke-width="4.6" stroke-linecap="butt"/>
<text transform="translate(1399.80,2280.60) scale(0.9381,1)" font-size="38.98" font-weight="bold">ZPIV</text>
<text transform="translate(925.40,1995.06) rotate(-90) scale(0.9102,1)" font-size="40.00" font-weight="bold">MN</text>
<text transform="translate(934.30,1937.77) rotate(-90) scale(0.9430,1)" font-size="30.69" font-weight="bold">50</text>
<text transform="translate(925.50,1894.79) rotate(-90) scale(0.9828,1)" font-size="39.56" font-weight="bold">titer (Log 10)</text>
<text x="1353.01" y="1649.80" font-size="39.71" font-style="italic">P</text>
<text transform="translate(1389.42,1648.48) scale(1.0170,1)" font-size="36.90" >=</text>
<text transform="translate(1421.67,1649.81) scale(0.9778,1)" font-size="39.15" >0.0057</text>
<text transform="translate(1090.89,2281.21) scale(0.9408,1)" font-size="38.64" font-weight="bold">Alum</text>
<circle cx="225.0" cy="1287.3" r="13.75" fill="#fff" stroke="#000" stroke-width="4.25"/><circle cx="245.0" cy="1287.3" r="13.75" fill="#fff" stroke="#000" stroke-width="4.25"/><circle cx="235.4" cy="1287.3" r="13.75" fill="#fff" stroke="#000" stroke-width="4.25"/><circle cx="216.1" cy="1287.3" r="13.75" fill="#fff" stroke="#000" stroke-width="4.25"/><circle cx="208.5" cy="1287.3" r="13.75" fill="#fff" stroke="#000" stroke-width="4.25"/><circle cx="197.0" cy="1287.3" r="13.75" fill="#fff" stroke="#000" stroke-width="4.25"/><circle cx="200.5" cy="1287.3" r="13.75" fill="#fff" stroke="#000" stroke-width="4.25"/><circle cx="254.8" cy="1287.3" r="13.75" fill="#fff" stroke="#000" stroke-width="4.25"/><circle cx="266.4" cy="1287.3" r="13.75" fill="#fff" stroke="#000" stroke-width="4.25"/><circle cx="359.6" cy="1287.3" r="14.40" fill="#fff"/><circle cx="359.6" cy="1287.3" r="12.60" fill="#000"/><circle cx="396.4" cy="1287.3" r="14.40" fill="#fff"/><circle cx="396.4" cy="1287.3" r="12.60" fill="#000"/><circle cx="367.6" cy="1287.3" r="14.40" fill="#fff"/><circle cx="367.6" cy="1287.3" r="12.60" fill="#000"/><circle cx="379.8" cy="1287.3" r="14.40" fill="#fff"/><circle cx="379.8" cy="1287.3" r="12.60" fill="#000"/><circle cx="371.7" cy="1287.3" r="14.40" fill="#fff"/><circle cx="371.7" cy="1287.3" r="12.60" fill="#000"/><rect x="545.5" y="1273.4" width="27.7" height="27.7" fill="#fff"/><rect x="546.9" y="1274.8" width="24.9" height="24.9" fill="#000"/><rect x="475.2" y="1273.4" width="27.7" height="27.7" fill="#fff"/><rect x="476.6" y="1274.8" width="24.9" height="24.9" fill="#000"/><rect x="502.9" y="1273.4" width="27.7" height="27.7" fill="#fff"/><rect x="504.3" y="1274.8" width="24.9" height="24.9" fill="#000"/><rect x="515.4" y="1273.4" width="27.7" height="27.7" fill="#fff"/><rect x="516.8" y="1274.8" width="24.9" height="24.9" fill="#000"/><rect x="523.4" y="1273.4" width="27.7" height="27.7" fill="#fff"/><rect x="524.8" y="1274.8" width="24.9" height="24.9" fill="#000"/><rect x="527.1" y="1273.4" width="27.7" height="27.7" fill="#fff"/><rect x="528.5" y="1274.8" width="24.9" height="24.9" fill="#000"/><rect x="531.9" y="1273.4" width="27.7" height="27.7" fill="#fff"/><rect x="533.3" y="1274.8" width="24.9" height="24.9" fill="#000"/><rect x="510.9" y="1141.3" width="27.7" height="27.7" fill="#fff"/><rect x="512.3" y="1142.7" width="24.9" height="24.9" fill="#000"/><circle cx="377.5" cy="974.0" r="14.40" fill="#fff"/><circle cx="377.5" cy="974.0" r="12.60" fill="#000"/><circle cx="364.8" cy="985.6" r="14.40" fill="#fff"/><circle cx="364.8" cy="985.6" r="12.60" fill="#000"/><circle cx="379.5" cy="986.5" r="14.40" fill="#fff"/><circle cx="379.5" cy="986.5" r="12.60" fill="#000"/><circle cx="392.4" cy="995.4" r="14.40" fill="#fff"/><circle cx="392.4" cy="995.4" r="12.60" fill="#000"/><circle cx="369.7" cy="1011.3" r="14.40" fill="#fff"/><circle cx="369.7" cy="1011.3" r="12.60" fill="#000"/><circle cx="386.9" cy="1024.8" r="14.40" fill="#fff"/><circle cx="386.9" cy="1024.8" r="12.60" fill="#000"/><circle cx="364.2" cy="1028.5" r="14.40" fill="#fff"/><circle cx="364.2" cy="1028.5" r="12.60" fill="#000"/><circle cx="355.0" cy="1040.2" r="14.40" fill="#fff"/><circle cx="355.0" cy="1040.2" r="12.60" fill="#000"/><circle cx="396.1" cy="1050.6" r="14.40" fill="#fff"/><circle cx="396.1" cy="1050.6" r="12.60" fill="#000"/><circle cx="408.3" cy="1057.4" r="14.40" fill="#fff"/><circle cx="408.3" cy="1057.4" r="12.60" fill="#000"/><circle cx="343.0" cy="1063.0" r="14.40" fill="#fff"/><circle cx="343.0" cy="1063.0" r="12.60" fill="#000"/><circle cx="346.0" cy="1064.0" r="14.40" fill="#fff"/><circle cx="346.0" cy="1064.0" r="12.60" fill="#000"/><circle cx="362.9" cy="1062.9" r="14.40" fill="#fff"/><circle cx="362.9" cy="1062.9" r="12.60" fill="#000"/><circle cx="384.4" cy="1059.8" r="14.40" fill="#fff"/><circle cx="384.4" cy="1059.8" r="12.60" fill="#000"/><circle cx="394.8" cy="1084.4" r="14.40" fill="#fff"/><circle cx="394.8" cy="1084.4" r="12.60" fill="#000"/><circle cx="355.0" cy="1095.4" r="14.40" fill="#fff"/><circle cx="355.0" cy="1095.4" r="12.60" fill="#000"/><circle cx="367.2" cy="1096.6" r="14.40" fill="#fff"/><circle cx="367.2" cy="1096.6" r="12.60" fill="#000"/><circle cx="382.6" cy="1095.4" r="14.40" fill="#fff"/><circle cx="382.6" cy="1095.4" r="12.60" fill="#000"/><circle cx="388.7" cy="1114.4" r="14.40" fill="#fff"/><circle cx="388.7" cy="1114.4" r="12.60" fill="#000"/><circle cx="380.7" cy="1120.6" r="14.40" fill="#fff"/><circle cx="380.7" cy="1120.6" r="12.60" fill="#000"/><circle cx="398.5" cy="1125.5" r="14.40" fill="#fff"/><circle cx="398.5" cy="1125.5" r="12.60" fill="#000"/><circle cx="408.3" cy="1120.6" r="14.40" fill="#fff"/><circle cx="408.3" cy="1120.6" r="12.60" fill="#000"/><circle cx="374.0" cy="1130.4" r="14.40" fill="#fff"/><circle cx="374.0" cy="1130.4" r="12.60" fill="#000"/><circle cx="361.7" cy="1140.8" r="14.40" fill="#fff"/><circle cx="361.7" cy="1140.8" r="12.60" fill="#000"/><circle cx="390.6" cy="1145.7" r="14.40" fill="#fff"/><circle cx="390.6" cy="1145.7" r="12.60" fill="#000"/><circle cx="374.0" cy="1158.6" r="14.40" fill="#fff"/><circle cx="374.0" cy="1158.6" r="12.60" fill="#000"/><circle cx="352.0" cy="1112.0" r="14.40" fill="#fff"/><circle cx="352.0" cy="1112.0" r="12.60" fill="#000"/><circle cx="400.0" cy="1066.0" r="14.40" fill="#fff"/><circle cx="400.0" cy="1066.0" r="12.60" fill="#000"/><circle cx="370.0" cy="1050.0" r="14.40" fill="#fff"/><circle cx="370.0" cy="1050.0" r="12.60" fill="#000"/><circle cx="360.0" cy="1120.0" r="14.40" fill="#fff"/><circle cx="360.0" cy="1120.0" r="12.60" fill="#000"/><circle cx="393.0" cy="1039.6" r="14.40" fill="#fff"/><circle cx="393.0" cy="1039.6" r="12.60" fill="#000"/><circle cx="382.0" cy="970.9" r="14.40" fill="#fff"/><circle cx="382.0" cy="970.9" r="12.60" fill="#000"/><circle cx="382.0" cy="997.2" r="14.40" fill="#fff"/><circle cx="382.0" cy="997.2" r="12.60" fill="#000"/><circle cx="374.0" cy="1037.7" r="14.40" fill="#fff"/><circle cx="374.0" cy="1037.7" r="12.60" fill="#000"/><circle cx="351.3" cy="1066.0" r="14.40" fill="#fff"/><circle cx="351.3" cy="1066.0" r="12.60" fill="#000"/><circle cx="390.0" cy="1074.5" r="14.40" fill="#fff"/><circle cx="390.0" cy="1074.5" r="12.60" fill="#000"/><circle cx="374.0" cy="1081.9" r="14.40" fill="#fff"/><circle cx="374.0" cy="1081.9" r="12.60" fill="#000"/><circle cx="412.6" cy="1101.5" r="14.40" fill="#fff"/><circle cx="412.6" cy="1101.5" r="12.60" fill="#000"/><circle cx="343.3" cy="1119.3" r="14.40" fill="#fff"/><circle cx="343.3" cy="1119.3" r="12.60" fill="#000"/><circle cx="378.3" cy="1137.7" r="14.40" fill="#fff"/><circle cx="378.3" cy="1137.7" r="12.60" fill="#000"/><circle cx="349.4" cy="1148.8" r="14.40" fill="#fff"/><circle cx="349.4" cy="1148.8" r="12.60" fill="#000"/><circle cx="410.8" cy="1142.6" r="14.40" fill="#fff"/><circle cx="410.8" cy="1142.6" r="12.60" fill="#000"/><circle cx="377.7" cy="1178.2" r="14.40" fill="#fff"/><circle cx="377.7" cy="1178.2" r="12.60" fill="#000"/><circle cx="377.7" cy="1206.4" r="14.40" fill="#fff"/><circle cx="377.7" cy="1206.4" r="12.60" fill="#000"/>
<circle cx="1072.0" cy="1288.4" r="13.75" fill="#fff" stroke="#000" stroke-width="4.25"/><circle cx="1083.0" cy="1288.4" r="13.75" fill="#fff" stroke="#000" stroke-width="4.25"/><circle cx="1095.0" cy="1288.4" r="13.75" fill="#fff" stroke="#000" stroke-width="4.25"/><circle cx="1100.0" cy="1288.4" r="13.75" fill="#fff" stroke="#000" stroke-width="4.25"/><circle cx="1104.0" cy="1288.4" r="13.75" fill="#fff" stroke="#000" stroke-width="4.25"/><circle cx="1124.0" cy="1288.4" r="13.75" fill="#fff" stroke="#000" stroke-width="4.25"/><circle cx="1088.6" cy="1288.4" r="13.75" fill="#fff" stroke="#000" stroke-width="4.25"/><circle cx="1077.3" cy="1288.4" r="13.75" fill="#fff" stroke="#000" stroke-width="4.25"/><circle cx="1062.6" cy="1288.4" r="13.75" fill="#fff" stroke="#000" stroke-width="4.25"/><circle cx="1131.8" cy="1288.4" r="13.75" fill="#fff" stroke="#000" stroke-width="4.25"/><circle cx="1067.5" cy="1288.4" r="13.75" fill="#fff" stroke="#000" stroke-width="4.25"/><circle cx="1116.5" cy="1288.4" r="13.75" fill="#fff" stroke="#000" stroke-width="4.25"/><circle cx="1210.7" cy="1288.4" r="14.40" fill="#fff"/><circle cx="1210.7" cy="1288.4" r="12.60" fill="#000"/><circle cx="1218.5" cy="1288.4" r="14.40" fill="#fff"/><circle cx="1218.5" cy="1288.4" r="12.60" fill="#000"/><circle cx="1226.4" cy="1288.4" r="14.40" fill="#fff"/><circle cx="1226.4" cy="1288.4" r="12.60" fill="#000"/><circle cx="1241.2" cy="1288.4" r="14.40" fill="#fff"/><circle cx="1241.2" cy="1288.4" r="12.60" fill="#000"/><circle cx="1246.7" cy="1288.4" r="14.40" fill="#fff"/><circle cx="1246.7" cy="1288.4" r="12.60" fill="#000"/><circle cx="1279.5" cy="1288.4" r="14.40" fill="#fff"/><circle cx="1279.5" cy="1288.4" r="12.60" fill="#000"/><circle cx="1263.1" cy="1288.4" r="14.40" fill="#fff"/><circle cx="1263.1" cy="1288.4" r="12.60" fill="#000"/><rect x="1343.3" y="1274.5" width="27.9" height="27.9" fill="#fff"/><rect x="1344.7" y="1275.9" width="25.1" height="25.1" fill="#000"/><rect x="1356.6" y="1274.5" width="27.9" height="27.9" fill="#fff"/><rect x="1358.0" y="1275.9" width="25.1" height="25.1" fill="#000"/><rect x="1385.0" y="1274.5" width="27.9" height="27.9" fill="#fff"/><rect x="1386.4" y="1275.9" width="25.1" height="25.1" fill="#000"/><rect x="1407.5" y="1274.5" width="27.9" height="27.9" fill="#fff"/><rect x="1408.9" y="1275.9" width="25.1" height="25.1" fill="#000"/><circle cx="1247.3" cy="985.0" r="14.40" fill="#fff"/><circle cx="1247.3" cy="985.0" r="12.60" fill="#000"/><circle cx="1242.0" cy="995.5" r="14.40" fill="#fff"/><circle cx="1242.0" cy="995.5" r="12.60" fill="#000"/><circle cx="1243.4" cy="1012.6" r="14.40" fill="#fff"/><circle cx="1243.4" cy="1012.6" r="12.60" fill="#000"/><circle cx="1248.0" cy="1032.3" r="14.40" fill="#fff"/><circle cx="1248.0" cy="1032.3" r="12.60" fill="#000"/><circle cx="1243.4" cy="1065.1" r="14.40" fill="#fff"/><circle cx="1243.4" cy="1065.1" r="12.60" fill="#000"/><circle cx="1247.3" cy="1104.5" r="14.40" fill="#fff"/><circle cx="1247.3" cy="1104.5" r="12.60" fill="#000"/><circle cx="1243.4" cy="1119.0" r="14.40" fill="#fff"/><circle cx="1243.4" cy="1119.0" r="12.60" fill="#000"/><circle cx="1245.3" cy="1130.8" r="14.40" fill="#fff"/><circle cx="1245.3" cy="1130.8" r="12.60" fill="#000"/><circle cx="1248.6" cy="1146.6" r="14.40" fill="#fff"/><circle cx="1248.6" cy="1146.6" r="12.60" fill="#000"/><circle cx="1247.3" cy="1161.0" r="14.40" fill="#fff"/><circle cx="1247.3" cy="1161.0" r="12.60" fill="#000"/><circle cx="1235.5" cy="1178.1" r="14.40" fill="#fff"/><circle cx="1235.5" cy="1178.1" r="12.60" fill="#000"/><circle cx="1239.4" cy="1190.0" r="14.40" fill="#fff"/><circle cx="1239.4" cy="1190.0" r="12.60" fill="#000"/><circle cx="1252.6" cy="1200.5" r="14.40" fill="#fff"/><circle cx="1252.6" cy="1200.5" r="12.60" fill="#000"/><circle cx="1247.3" cy="1213.6" r="14.40" fill="#fff"/><circle cx="1247.3" cy="1213.6" r="12.60" fill="#000"/><circle cx="1244.7" cy="1000.7" r="14.40" fill="#fff"/><circle cx="1244.7" cy="1000.7" r="12.60" fill="#000"/><circle cx="1242.0" cy="1031.6" r="14.40" fill="#fff"/><circle cx="1242.0" cy="1031.6" r="12.60" fill="#000"/><circle cx="1244.7" cy="1076.3" r="14.40" fill="#fff"/><circle cx="1244.7" cy="1076.3" r="12.60" fill="#000"/><circle cx="1242.7" cy="1107.8" r="14.40" fill="#fff"/><circle cx="1242.7" cy="1107.8" r="12.60" fill="#000"/><circle cx="1241.4" cy="1149.9" r="14.40" fill="#fff"/><circle cx="1241.4" cy="1149.9" r="12.60" fill="#000"/><circle cx="1244.0" cy="1170.3" r="14.40" fill="#fff"/><circle cx="1244.0" cy="1170.3" r="12.60" fill="#000"/><circle cx="1248.0" cy="1183.4" r="14.40" fill="#fff"/><circle cx="1248.0" cy="1183.4" r="12.60" fill="#000"/><circle cx="1243.4" cy="1207.0" r="14.40" fill="#fff"/><circle cx="1243.4" cy="1207.0" r="12.60" fill="#000"/><circle cx="1244.0" cy="1245.8" r="14.40" fill="#fff"/><circle cx="1244.0" cy="1245.8" r="12.60" fill="#000"/>
<circle cx="215.0" cy="2120.8" r="13.75" fill="#fff" stroke="#000" stroke-width="4.25"/><circle cx="232.6" cy="2120.8" r="13.75" fill="#fff" stroke="#000" stroke-width="4.25"/><circle cx="250.0" cy="2120.8" r="13.75" fill="#fff" stroke="#000" stroke-width="4.25"/><circle cx="263.3" cy="2120.8" r="13.75" fill="#fff" stroke="#000" stroke-width="4.25"/><circle cx="267.8" cy="2120.8" r="13.75" fill="#fff" stroke="#000" stroke-width="4.25"/><circle cx="258.8" cy="2120.8" r="13.75" fill="#fff" stroke="#000" stroke-width="4.25"/><circle cx="241.2" cy="2120.8" r="13.75" fill="#fff" stroke="#000" stroke-width="4.25"/><circle cx="224.0" cy="2120.8" r="13.75" fill="#fff" stroke="#000" stroke-width="4.25"/><circle cx="198.0" cy="2120.8" r="13.75" fill="#fff" stroke="#000" stroke-width="4.25"/><circle cx="206.3" cy="2120.8" r="13.75" fill="#fff" stroke="#000" stroke-width="4.25"/><circle cx="344.8" cy="2120.8" r="14.40" fill="#fff"/><circle cx="344.8" cy="2120.8" r="12.60" fill="#000"/><circle cx="348.5" cy="2120.8" r="14.40" fill="#fff"/><circle cx="348.5" cy="2120.8" r="12.60" fill="#000"/><circle cx="355.2" cy="2120.8" r="14.40" fill="#fff"/><circle cx="355.2" cy="2120.8" r="12.60" fill="#000"/><circle cx="366.9" cy="2120.8" r="14.40" fill="#fff"/><circle cx="366.9" cy="2120.8" r="12.60" fill="#000"/><circle cx="397.5" cy="2120.8" r="14.40" fill="#fff"/><circle cx="397.5" cy="2120.8" r="12.60" fill="#000"/><circle cx="380.3" cy="2120.8" r="14.40" fill="#fff"/><circle cx="380.3" cy="2120.8" r="12.60" fill="#000"/><circle cx="414.9" cy="2120.8" r="14.40" fill="#fff"/><circle cx="414.9" cy="2120.8" r="12.60" fill="#000"/><rect x="548.2" y="2107.0" width="27.8" height="27.8" fill="#fff"/><rect x="549.6" y="2108.4" width="25.0" height="25.0" fill="#000"/><rect x="478.0" y="2107.0" width="27.8" height="27.8" fill="#fff"/><rect x="479.4" y="2108.4" width="25.0" height="25.0" fill="#000"/><rect x="489.8" y="2107.0" width="27.8" height="27.8" fill="#fff"/><rect x="491.2" y="2108.4" width="25.0" height="25.0" fill="#000"/><rect x="517.5" y="2107.0" width="27.8" height="27.8" fill="#fff"/><rect x="518.9" y="2108.4" width="25.0" height="25.0" fill="#000"/><rect x="526.7" y="2107.0" width="27.8" height="27.8" fill="#fff"/><rect x="528.1" y="2108.4" width="25.0" height="25.0" fill="#000"/><rect x="532.7" y="2107.0" width="27.8" height="27.8" fill="#fff"/><rect x="534.1" y="2108.4" width="25.0" height="25.0" fill="#000"/><rect x="541.6" y="2107.0" width="27.8" height="27.8" fill="#fff"/><rect x="543.0" y="2108.4" width="25.0" height="25.0" fill="#000"/><rect x="513.2" y="2071.0" width="28.0" height="28.0" fill="#fff"/><rect x="514.6" y="2072.4" width="25.2" height="25.2" fill="#000"/><circle cx="379.8" cy="1831.2" r="14.40" fill="#fff"/><circle cx="379.8" cy="1831.2" r="12.60" fill="#000"/><circle cx="379.8" cy="1871.8" r="14.40" fill="#fff"/><circle cx="379.8" cy="1871.8" r="12.60" fill="#000"/><circle cx="378.4" cy="1897.8" r="14.40" fill="#fff"/><circle cx="378.4" cy="1897.8" r="12.60" fill="#000"/><circle cx="379.8" cy="1968.6" r="14.40" fill="#fff"/><circle cx="379.8" cy="1968.6" r="12.60" fill="#000"/><circle cx="379.8" cy="1981.2" r="14.40" fill="#fff"/><circle cx="379.8" cy="1981.2" r="12.60" fill="#000"/><circle cx="373.5" cy="1991.0" r="14.40" fill="#fff"/><circle cx="373.5" cy="1991.0" r="12.60" fill="#000"/><circle cx="386.1" cy="1991.0" r="14.40" fill="#fff"/><circle cx="386.1" cy="1991.0" r="12.60" fill="#000"/><circle cx="376.3" cy="2003.7" r="14.40" fill="#fff"/><circle cx="376.3" cy="2003.7" r="12.60" fill="#000"/><circle cx="384.7" cy="2000.9" r="14.40" fill="#fff"/><circle cx="384.7" cy="2000.9" r="12.60" fill="#000"/><circle cx="381.9" cy="2014.9" r="14.40" fill="#fff"/><circle cx="381.9" cy="2014.9" r="12.60" fill="#000"/><circle cx="377.7" cy="2033.1" r="14.40" fill="#fff"/><circle cx="377.7" cy="2033.1" r="12.60" fill="#000"/><circle cx="380.2" cy="1755.1" r="14.40" fill="#fff"/><circle cx="380.2" cy="1755.1" r="12.60" fill="#000"/><circle cx="380.8" cy="1817.1" r="14.40" fill="#fff"/><circle cx="380.8" cy="1817.1" r="12.60" fill="#000"/><circle cx="380.2" cy="1845.9" r="14.40" fill="#fff"/><circle cx="380.2" cy="1845.9" r="12.60" fill="#000"/><circle cx="380.8" cy="1889.4" r="14.40" fill="#fff"/><circle cx="380.8" cy="1889.4" r="12.60" fill="#000"/><circle cx="380.2" cy="1927.7" r="14.40" fill="#fff"/><circle cx="380.2" cy="1927.7" r="12.60" fill="#000"/><circle cx="379.1" cy="1956.7" r="14.40" fill="#fff"/><circle cx="379.1" cy="1956.7" r="12.60" fill="#000"/><circle cx="380.8" cy="2021.9" r="14.40" fill="#fff"/><circle cx="380.8" cy="2021.9" r="12.60" fill="#000"/><circle cx="380.2" cy="2045.7" r="14.40" fill="#fff"/><circle cx="380.2" cy="2045.7" r="12.60" fill="#000"/>
<circle cx="1059.3" cy="2009.2" r="11.60" fill="#fff" stroke="#000" stroke-width="3.8"/><rect x="1026.3" y="2043.3" width="66.6" height="27.3" rx="13.65" fill="#000"/><circle cx="1153.3" cy="2009.2" r="11.40" fill="#d3d3d3" stroke="#000" stroke-width="2.4"/><circle cx="1172.7" cy="2057.0" r="11.40" fill="#d3d3d3" stroke="#000" stroke-width="2.4"/><circle cx="1165.5" cy="2057.0" r="11.40" fill="#d3d3d3" stroke="#000" stroke-width="2.4"/><circle cx="1146.5" cy="2057.0" r="11.40" fill="#d3d3d3" stroke="#000" stroke-width="2.4"/><circle cx="1150.0" cy="2057.0" r="11.40" fill="#d3d3d3" stroke="#000" stroke-width="2.4"/><circle cx="1141.0" cy="2057.0" r="11.40" fill="#d3d3d3" stroke="#000" stroke-width="2.4"/><circle cx="1133.9" cy="2057.0" r="11.40" fill="#d3d3d3" stroke="#000" stroke-width="2.4"/><circle cx="1136.6" cy="2057.0" r="11.40" fill="#d3d3d3" stroke="#000" stroke-width="2.4"/><circle cx="1156.6" cy="2057.0" r="11.40" fill="#d3d3d3" stroke="#000" stroke-width="2.4"/><circle cx="1253.5" cy="1887.5" r="11.65" fill="#fff"/><circle cx="1253.5" cy="1887.5" r="10.15" fill="#000"/><circle cx="1227.5" cy="1880.3" r="11.65" fill="#fff"/><circle cx="1227.5" cy="1880.3" r="10.15" fill="#000"/><circle cx="1249.5" cy="1890.5" r="11.65" fill="#fff"/><circle cx="1249.5" cy="1890.5" r="10.15" fill="#000"/><circle cx="1230.3" cy="1895.0" r="11.65" fill="#fff"/><circle cx="1230.3" cy="1895.0" r="10.15" fill="#000"/><circle cx="1252.9" cy="1919.8" r="11.65" fill="#fff"/><circle cx="1252.9" cy="1919.8" r="10.15" fill="#000"/><circle cx="1241.6" cy="1919.8" r="11.65" fill="#fff"/><circle cx="1241.6" cy="1919.8" r="10.15" fill="#000"/><circle cx="1247.2" cy="1905.1" r="11.65" fill="#fff"/><circle cx="1247.2" cy="1905.1" r="10.15" fill="#000"/><circle cx="1244.4" cy="1896.7" r="11.65" fill="#fff"/><circle cx="1244.4" cy="1896.7" r="10.15" fill="#000"/><circle cx="1267.0" cy="1893.3" r="11.65" fill="#fff"/><circle cx="1267.0" cy="1893.3" r="10.15" fill="#000"/><circle cx="1249.5" cy="1988.7" r="11.65" fill="#fff"/><circle cx="1249.5" cy="1988.7" r="10.15" fill="#000"/><circle cx="1244.4" cy="1988.7" r="11.65" fill="#fff"/><circle cx="1244.4" cy="1988.7" r="10.15" fill="#000"/><circle cx="1247.2" cy="1945.8" r="11.65" fill="#fff"/><circle cx="1247.2" cy="1945.8" r="10.15" fill="#000"/><rect x="1332.9" y="1893.2" width="22.7" height="22.7" fill="#fff" stroke="#000" stroke-width="1.9"/><rect x="1329.2" y="1894.9" width="22.7" height="22.7" fill="#fff" stroke="#000" stroke-width="1.9"/><rect x="1326.0" y="1901.0" width="22.7" height="22.7" fill="#fff" stroke="#000" stroke-width="1.9"/><rect x="1310.0" y="1977.2" width="22.5" height="22.5" fill="#fff" stroke="#000" stroke-width="1.9"/><rect x="1350.0" y="1977.2" width="22.5" height="22.5" fill="#fff" stroke="#000" stroke-width="1.9"/><rect x="1312.5" y="1977.2" width="22.5" height="22.5" fill="#fff" stroke="#000" stroke-width="1.9"/><rect x="1336.9" y="1977.2" width="22.5" height="22.5" fill="#fff" stroke="#000" stroke-width="1.9"/><rect x="1423.5" y="1712.3" width="22.3" height="22.3" fill="#a5a5aa" stroke="#000" stroke-width="2.5"/><rect x="1423.5" y="1777.0" width="22.3" height="22.3" fill="#a5a5aa" stroke="#000" stroke-width="2.5"/><rect x="1423.5" y="1808.5" width="22.3" height="22.3" fill="#a5a5aa" stroke="#000" stroke-width="2.5"/><rect x="1423.5" y="1817.0" width="22.3" height="22.3" fill="#a5a5aa" stroke="#000" stroke-width="2.5"/><rect x="1427.5" y="1884.8" width="22.3" height="22.3" fill="#a5a5aa" stroke="#000" stroke-width="2.5"/><rect x="1435.2" y="1880.2" width="22.3" height="22.3" fill="#a5a5aa" stroke="#000" stroke-width="2.5"/><rect x="1419.7" y="1888.7" width="22.3" height="22.3" fill="#a5a5aa" stroke="#000" stroke-width="2.5"/><rect x="1404.2" y="1870.5" width="22.3" height="22.3" fill="#a5a5aa" stroke="#000" stroke-width="2.5"/><rect x="1411.7" y="1865.2" width="22.3" height="22.3" fill="#a5a5aa" stroke="#000" stroke-width="2.5"/><rect x="1427.5" y="1847.3" width="22.3" height="22.3" fill="#a5a5aa" stroke="#000" stroke-width="2.5"/><rect x="1419.7" y="1859.2" width="22.3" height="22.3" fill="#a5a5aa" stroke="#000" stroke-width="2.5"/><rect x="1419.7" y="1883.0" width="22.3" height="22.3" fill="#a5a5aa" stroke="#000" stroke-width="2.5"/><rect x="1427.5" y="1866.5" width="22.3" height="22.3" fill="#a5a5aa" stroke="#000" stroke-width="2.5"/><rect x="1443.8" y="1877.2" width="22.3" height="22.3" fill="#a5a5aa" stroke="#000" stroke-width="2.5"/><rect x="1423.5" y="2046.2" width="22.3" height="22.3" fill="#a5a5aa" stroke="#000" stroke-width="2.5"/><rect x="1523.7" y="1748.9" width="23.1" height="23.1" fill="#fff"/><rect x="1525.1" y="1750.3" width="20.3" height="20.3" fill="#000"/><rect x="1523.9" y="1775.6" width="23.1" height="23.1" fill="#fff"/><rect x="1525.3" y="1777.0" width="20.3" height="20.3" fill="#000"/><rect x="1497.4" y="1790.6" width="23.1" height="23.1" fill="#fff"/><rect x="1498.8" y="1792.0" width="20.3" height="20.3" fill="#000"/><rect x="1510.6" y="1770.9" width="23.1" height="23.1" fill="#fff"/><rect x="1512.0" y="1772.3" width="20.3" height="20.3" fill="#000"/><rect x="1517.0" y="1800.4" width="23.1" height="23.1" fill="#fff"/><rect x="1518.4" y="1801.8" width="20.3" height="20.3" fill="#000"/><rect x="1536.9" y="1787.0" width="23.1" height="23.1" fill="#fff"/><rect x="1538.3" y="1788.4" width="20.3" height="20.3" fill="#000"/><rect x="1497.7" y="1837.8" width="23.1" height="23.1" fill="#fff"/><rect x="1499.1" y="1839.2" width="20.3" height="20.3" fill="#000"/><rect x="1510.8" y="1851.0" width="23.1" height="23.1" fill="#fff"/><rect x="1512.2" y="1852.4" width="20.3" height="20.3" fill="#000"/><rect x="1510.3" y="1828.1" width="23.1" height="23.1" fill="#fff"/><rect x="1511.7" y="1829.5" width="20.3" height="20.3" fill="#000"/><rect x="1537.0" y="1831.6" width="23.1" height="23.1" fill="#fff"/><rect x="1538.4" y="1833.0" width="20.3" height="20.3" fill="#000"/><rect x="1523.5" y="1850.5" width="23.1" height="23.1" fill="#fff"/><rect x="1524.9" y="1851.9" width="20.3" height="20.3" fill="#000"/><rect x="1537.0" y="1847.9" width="23.1" height="23.1" fill="#fff"/><rect x="1538.4" y="1849.3" width="20.3" height="20.3" fill="#000"/><rect x="1497.6" y="1863.6" width="23.1" height="23.1" fill="#fff"/><rect x="1499.0" y="1865.0" width="20.3" height="20.3" fill="#000"/>
</svg>
</body></html>
